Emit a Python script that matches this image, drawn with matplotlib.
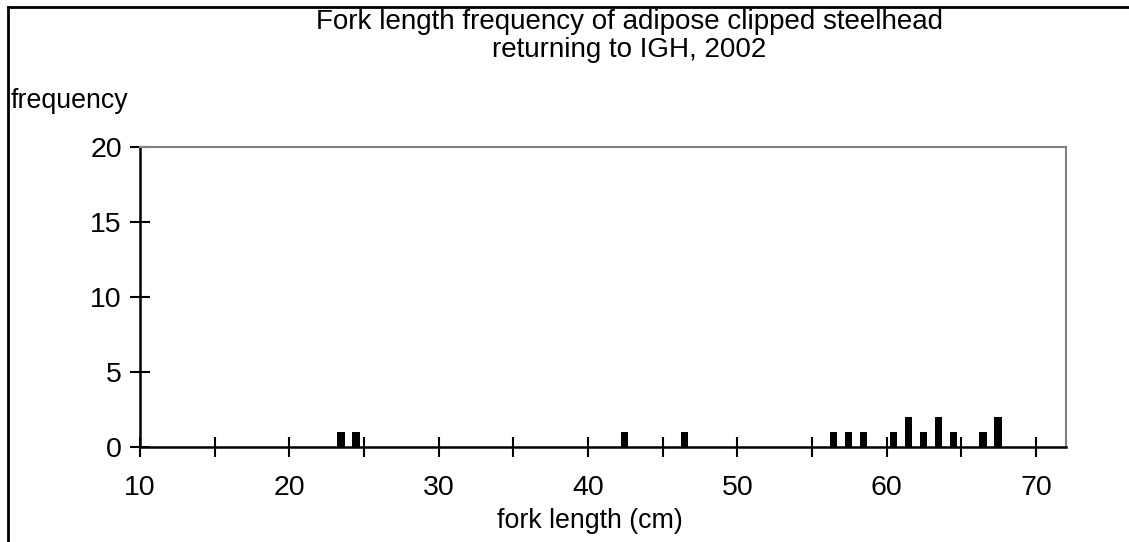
import matplotlib.pyplot as plt
from matplotlib.lines import Line2D
from matplotlib.ticker import MultipleLocator

plt.rcParams['font.family'] = ['Liberation Sans', 'DejaVu Sans']

# fork length (cm) and number of fish
fork_length = [23, 24, 42, 46, 56, 57, 58, 60, 61, 62, 63, 64, 66, 67]
frequency = [1, 1, 1, 1, 1, 1, 1, 1, 2, 1, 2, 1, 1, 2]

x_ticks = [10, 20, 30, 40, 50, 60, 70]
y_ticks = [0, 5, 10, 15, 20]

fig = plt.figure(figsize=(11.29, 5.42), dpi=100)
ax = fig.add_axes([140 / 1129, 1 - 447.3 / 542, 926 / 1129, 300.3 / 542])

# bars sit a bit right of the integer, like the original
ax.bar([v + 0.45 for v in fork_length], frequency, width=0.5, color='black')

ax.set_xlim(10, 72)
ax.set_ylim(0, 20)
ax.set_xticks(x_ticks)
ax.xaxis.set_minor_locator(MultipleLocator(5))
ax.set_yticks(y_ticks)
ax.tick_params(axis='both', which='both', direction='inout', length=14, width=1.5,
               color='black', labelsize=20.5)
ax.tick_params(axis='x', pad=13)
ax.tick_params(axis='y', pad=6)

for side in ['left', 'bottom']:
    ax.spines[side].set_color('black')
    ax.spines[side].set_linewidth(1.8)
for side in ['top', 'right']:
    ax.spines[side].set_color('#808080')
    ax.spines[side].set_linewidth(1.5)

fig.text(629 / 1129, 1 - 22 / 542, 'Fork length frequency of adipose clipped steelhead',
         ha='center', va='center', fontsize=20)
fig.text(629 / 1129, 1 - 50 / 542, 'returning to IGH, 2002',
         ha='center', va='center', fontsize=20)
fig.text(11 / 1129, 1 - 101 / 542, 'frequency', ha='left', va='center', fontsize=19.3)
fig.text(590 / 1129, 1 - 521 / 542, 'fork length (cm)', ha='center', va='center', fontsize=19.3)

# outer chart border (top and left edges visible)
fig.add_artist(Line2D([7.5 / 1129, 1], [1 - 6.5 / 542, 1 - 6.5 / 542],
                      transform=fig.transFigure, color='black', lw=2))
fig.add_artist(Line2D([7.5 / 1129, 7.5 / 1129], [0, 1 - 6.5 / 542],
                      transform=fig.transFigure, color='black', lw=2))

fig.savefig('out.png', dpi=100)
